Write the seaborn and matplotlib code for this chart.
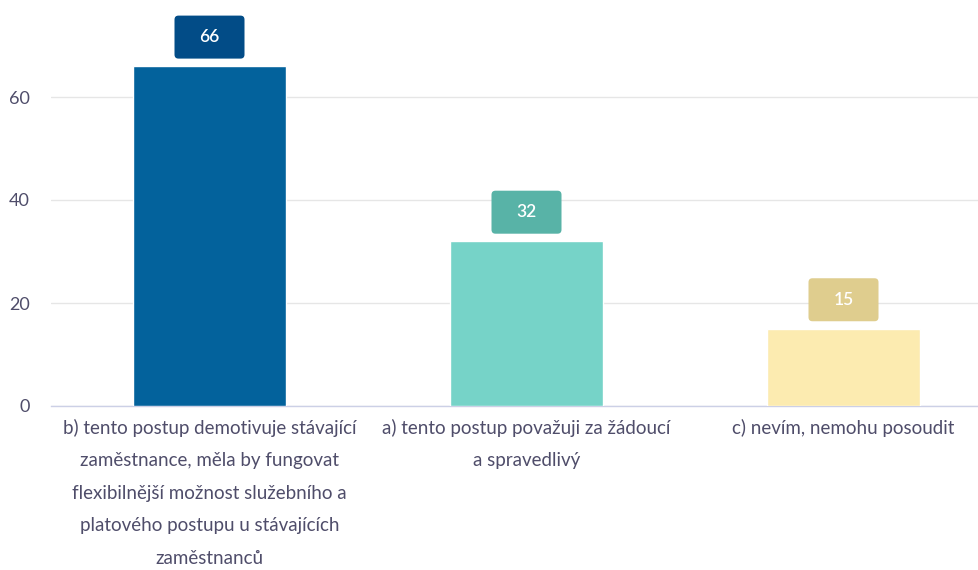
import matplotlib
matplotlib.use("Agg")
import matplotlib.pyplot as plt
import matplotlib.transforms as mtransforms
from matplotlib.patches import FancyBboxPatch
import pandas as pd
import seaborn as sns

# Survey answers and their share of respondents
categories = [
    "b) tento postup demotivuje stávající\nzaměstnance, měla by fungovat\nflexibilnější možnost služebního a\nplatového postupu u stávajících\nzaměstnanců",
    "a) tento postup považuji za žádoucí\na spravedlivý",
    "c) nevím, nemohu posoudit",
]
values = [66, 32, 15]
bar_colors = ["#03629c", "#76d3c8", "#fcebb0"]
label_colors = ["#024c87", "#58b3a7", "#dfcd8e"]
y_ticks = [0, 20, 40, 60]

TEXT = "#4f4d6a"
FONT = ["Lato", "DejaVu Sans"]

sns.set_theme(style="white")
plt.rcParams["font.family"] = FONT

df = pd.DataFrame({"answer": categories, "value": values})

DPI = 100
PT = 72 / DPI  # points per pixel
fig = plt.figure(figsize=(9.79, 5.70), dpi=DPI)
W, H = 979, 570
ax_left, ax_bottom_px, ax_w, ax_h = 51, 406, 951, 78 * 5.15
ax = fig.add_axes([ax_left / W, (H - ax_bottom_px) / H, ax_w / W, ax_h / H])

sns.barplot(
    data=df, x="answer", y="value", hue="answer",
    palette=dict(zip(categories, bar_colors)), saturation=1,
    width=0.483, legend=False, ax=ax, zorder=3,
)

ax.set_ylim(0, 78)
ax.set_xlim(-0.5, 2.5)
ax.set_yticks(y_ticks)
ax.set_xlabel("")
ax.set_ylabel("")
ax.grid(axis="y", color="#e6e6e6", linewidth=1, zorder=0)
ax.set_axisbelow(True)
for side in ["left", "right", "top"]:
    ax.spines[side].set_visible(False)
ax.spines["bottom"].set_color("#ccd0e6")
ax.spines["bottom"].set_linewidth(1)

ax.tick_params(axis="y", length=0, pad=21 * PT, labelsize=13, labelcolor=TEXT)
ax.tick_params(axis="x", length=0, pad=13 * PT, labelsize=13.5, labelcolor=TEXT)
for lbl in ax.get_xticklabels():
    lbl.set_linespacing(2.1)
    lbl.set_verticalalignment("top")

# Value badges above each bar (sizes in pixels, anchored at the bar top)
bw, bh, gap = 70, 43, 7.5
for i, (v, c) in enumerate(zip(values, label_colors)):
    tr = mtransforms.Affine2D() + mtransforms.ScaledTranslation(i, v, ax.transData)
    box = FancyBboxPatch(
        (-bw / 2, gap), bw, bh,
        boxstyle="round,pad=0,rounding_size=4",
        facecolor=c, edgecolor="none", transform=tr, clip_on=False, zorder=4,
    )
    ax.add_patch(box)
    ax.annotate(
        str(v), xy=(i, v), xytext=(0, (gap + bh / 2) * PT),
        textcoords="offset points", ha="center", va="center",
        color="white", fontsize=12.5, fontweight="semibold", zorder=5,
    )

fig.savefig("out.png", dpi=DPI, facecolor="white")
